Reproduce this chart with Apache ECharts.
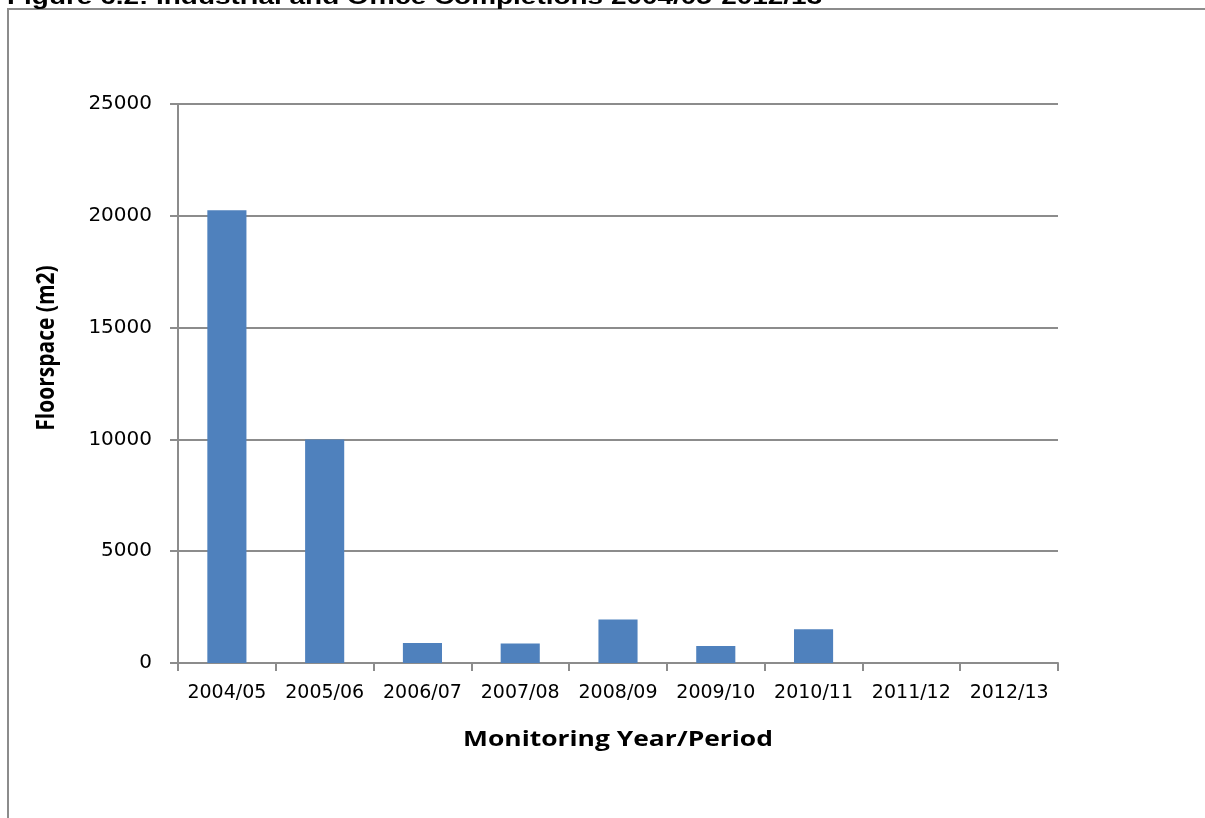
<!DOCTYPE html>
<html>
<head>
<meta charset="utf-8">
<style>
  html, body { margin: 0; padding: 0; background: #fff; }
  #chart { width: 1205px; height: 818px; }
</style>
<script src="https://cdn.jsdelivr.net/npm/echarts@6/dist/echarts.min.js"></script>
</head>
<body>
<div id="chart"></div>
<script>
// Monitoring periods and completed floorspace (m2)
const periods = ['2004/05', '2005/06', '2006/07', '2007/08', '2008/09', '2009/10', '2010/11', '2011/12', '2012/13'];
const floorspace = [20250, 10000, 890, 870, 1940, 760, 1510, 0, 0];
const yTicks = [0, 5000, 10000, 15000, 20000, 25000];

const chart = echarts.init(document.getElementById('chart'), null, { renderer: 'canvas' });

const labelFont = '"DejaVu Sans", "Open Sans", sans-serif';
const titleFont = '"Open Sans", "Liberation Sans", sans-serif';
const axisGrey = '#8c8c8c';

chart.setOption({
  animation: false,
  backgroundColor: '#ffffff',
  grid: { left: 178, right: 147, top: 104, bottom: 155, containLabel: false },
  xAxis: {
    type: 'category',
    data: periods,
    boundaryGap: true,
    axisLine: { lineStyle: { color: axisGrey, width: 2 } },
    axisTick: { show: true, alignWithLabel: false, length: 8, lineStyle: { color: axisGrey, width: 2 } },
    axisLabel: { color: '#000', fontFamily: labelFont, fontSize: 19, margin: 21, interval: 0, hideOverlap: false },
    splitLine: { show: false }
  },
  yAxis: {
    type: 'value',
    min: yTicks[0],
    max: yTicks[yTicks.length - 1],
    interval: yTicks[1] - yTicks[0],
    axisLine: { show: true, lineStyle: { color: axisGrey, width: 2 } },
    axisTick: { show: true, length: 8, lineStyle: { color: axisGrey, width: 2 } },
    axisLabel: { color: '#000', fontFamily: labelFont, fontSize: 20, margin: 26, formatter: v => String(v) },
    splitLine: { show: true, lineStyle: { color: axisGrey, width: 2 } }
  },
  series: [{
    type: 'bar',
    data: floorspace,
    barWidth: '40%',
    itemStyle: { color: '#4f81bd', borderWidth: 0 }
  }],
  graphic: [
    {
      type: 'rect',
      shape: { x: 8, y: 9, width: 1300, height: 900 },
      style: { fill: 'none', stroke: axisGrey, lineWidth: 2 },
      silent: true
    },
    {
      // heading runs off the top edge of the page
      type: 'text',
      x: 7,
      y: 9,
      scaleX: 1.27,
      style: {
        text: 'Figure 6.2: Industrial and Office Completions 2004/05-2012/13',
        font: 'bold 22px "Liberation Sans", Arial, sans-serif',
        fill: '#000',
        align: 'left',
        verticalAlign: 'bottom'
      }
    },
    {
      type: 'text',
      x: 47,
      y: 348,
      rotation: Math.PI / 2,
      scaleY: 1.2,
      style: {
        text: 'Floorspace (m2)',
        font: 'bold 21px ' + titleFont,
        fill: '#000',
        align: 'center',
        verticalAlign: 'middle'
      }
    },
    {
      type: 'text',
      x: 618,
      y: 740,
      scaleX: 1.2,
      style: {
        text: 'Monitoring Year/Period',
        font: 'bold 22px ' + titleFont,
        fill: '#000',
        align: 'center',
        verticalAlign: 'middle'
      }
    }
  ]
});
</script>
</body>
</html>
